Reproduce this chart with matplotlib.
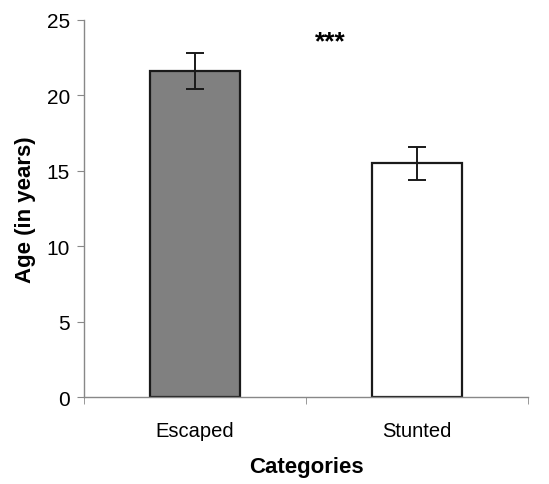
import matplotlib.pyplot as plt
import numpy as np

plt.rcParams['font.family'] = ['Liberation Sans', 'DejaVu Sans']

categories = ["Escaped", "Stunted"]
mean_age = [21.6, 15.5]
err_age = [1.2, 1.1]
colors = ["#808080", "#ffffff"]

x = np.arange(len(categories))

fig = plt.figure(figsize=(5.49, 4.85), dpi=100)
ax = fig.add_axes([0.153, 0.179, 0.809, 0.778])

ax.bar(x, mean_age, 0.405, color=colors, edgecolor="#1a1a1a", linewidth=1.6,
       yerr=err_age, capsize=6.5,
       error_kw=dict(ecolor="#1a1a1a", elinewidth=1.4, capthick=1.4))

ax.set_xlim(-0.5, 1.5)
ax.set_ylim(0, 25)
ax.set_yticks([0, 5, 10, 15, 20, 25])
ax.set_xticks(x)
ax.set_xticklabels(categories, fontsize=14.5)
ax.set_xticks([-0.5, 0.5, 1.5], minor=True)
ax.tick_params(axis="x", which="major", length=0, pad=17)
ax.tick_params(axis="x", which="minor", length=5, color="#888888", direction="out")
ax.tick_params(axis="y", labelsize=15, length=5, color="#888888", pad=5)

for side in ["top", "right"]:
    ax.spines[side].set_visible(False)
for side in ["left", "bottom"]:
    ax.spines[side].set_color("#888888")
    ax.spines[side].set_linewidth(1.0)

ax.set_ylabel("Age (in years)", fontsize=16, fontweight="bold", labelpad=8)
ax.set_xlabel("Categories", fontsize=16, fontweight="bold", labelpad=12)

ax.text(0.61, 23.6, "***", ha="center", va="center", fontsize=19, fontweight="bold")

plt.savefig("out.png", dpi=100)
